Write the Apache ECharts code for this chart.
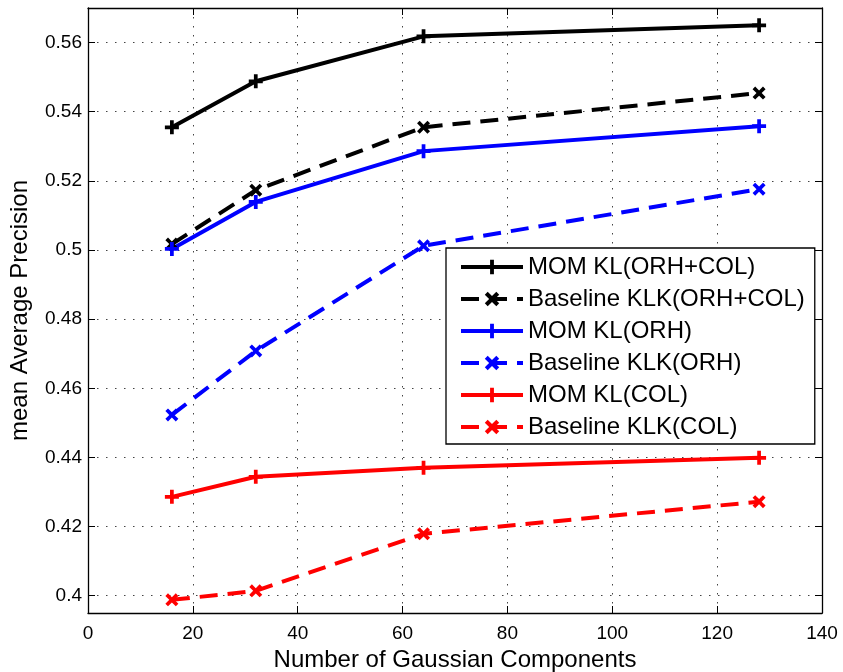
<!DOCTYPE html>
<html><head><meta charset="utf-8">
<script src="https://cdn.jsdelivr.net/npm/echarts@6/dist/echarts.min.js"></script>
<style>html,body{margin:0;padding:0;background:#fff}#c{width:843px;height:672px}</style>
</head><body><div id="c"></div>
<script>
const components = [16, 32, 64, 128];
const momOrhCol = [0.5355, 0.5488, 0.5618, 0.5650];
const baseOrhCol = [0.5017, 0.5173, 0.5355, 0.5454];
const momOrh = [0.5003, 0.5139, 0.5286, 0.5358];
const baseOrh = [0.4523, 0.4708, 0.5012, 0.5176];
const momCol = [0.4286, 0.4344, 0.4370, 0.4399];
const baseCol = [0.3988, 0.4014, 0.4179, 0.4272];
const yTicks = [0.4, 0.42, 0.44, 0.46, 0.48, 0.5, 0.52, 0.54, 0.56];
const xTicks = [0, 20, 40, 60, 80, 100, 120, 140];

const PLUS = 'path://M-1.6,-6 L1.6,-6 L1.6,-1.6 L6,-1.6 L6,1.6 L1.6,1.6 L1.6,6 L-1.6,6 L-1.6,1.6 L-6,1.6 L-6,-1.6 L-1.6,-1.6 Z';
const CROSS = 'path://M-3.6,-6 L0,-2.4 L3.6,-6 L6,-3.6 L2.4,0 L6,3.6 L3.6,6 L0,2.4 L-3.6,6 L-6,3.6 L-2.4,0 L-6,-3.6 Z';

function mk(name, vals, color, dashed) {
  return {
    name: name, type: 'line',
    data: components.map((x, i) => [x, vals[i]]),
    symbol: dashed ? CROSS : PLUS,
    symbolSize: dashed ? 13 : 14,
    showAllSymbol: true,
    lineStyle: { color: color, width: 4, type: dashed ? [18, 10] : 'solid', cap: 'butt' },
    itemStyle: { color: color },
    emphasis: { disabled: true },
    animation: false, z: 3
  };
}
const FONT = 'Liberation Sans';
const chart = echarts.init(document.getElementById('c'), null, { renderer: 'canvas' });
const gridLine = { show: true, lineStyle: { color: '#444', type: [1.5, 7.5], width: 1 } };
const yAxisBase = {
  type: 'value', min: 0.395, max: 0.57,
  axisLine: { show: true, onZero: false, lineStyle: { color: '#000', width: 1.3 } },
  axisTick: { show: true, inside: true, length: 7, customValues: yTicks, lineStyle: { color: '#000' } },
  splitLine: { show: false }
};
const xAxisBase = {
  type: 'value', min: 0, max: 140, interval: 20,
  axisLine: { show: true, onZero: false, lineStyle: { color: '#000', width: 1.3 } },
  axisTick: { show: true, inside: true, length: 7, lineStyle: { color: '#000' } },
  splitLine: { show: false }
};
chart.setOption({
  backgroundColor: '#fff',
  animation: false,
  grid: { left: 88, right: 21, top: 8, bottom: 59, containLabel: false, outerBoundsMode: 'none' },
  xAxis: [
    Object.assign({}, xAxisBase, {
      position: 'bottom',
      name: 'Number of Gaussian Components', nameLocation: 'middle', nameGap: 34,
      nameTextStyle: { fontFamily: FONT, fontSize: 24, color: '#000' },
      axisLabel: { fontFamily: FONT, fontSize: 19, color: '#000', margin: 11 },
      splitLine: gridLine
    }),
    Object.assign({}, xAxisBase, { position: 'top', axisLabel: { show: false } })
  ],
  yAxis: [
    Object.assign({}, yAxisBase, {
      position: 'left',
      name: 'mean Average Precision', nameLocation: 'middle', nameGap: 56,
      nameTextStyle: { fontFamily: FONT, fontSize: 24, color: '#000' },
      axisLabel: { fontFamily: FONT, fontSize: 19, color: '#000', margin: 6, customValues: yTicks,
        formatter: v => String(Math.round(v * 100) / 100) },
      splitLine: gridLine
    }),
    Object.assign({}, yAxisBase, { position: 'right', axisLabel: { show: false } })
  ],
  legend: {
    orient: 'vertical', left: 446, top: 248,
    backgroundColor: '#fff', borderColor: '#000', borderWidth: 1.3,
    padding: [7, 10, 5, 13], itemGap: 8,
    itemWidth: 62, itemHeight: 18,
    lineStyle: { width: 4 },
    textStyle: { fontFamily: FONT, fontSize: 24, color: '#000' },
    data: ['MOM KL(ORH+COL)', 'Baseline KLK(ORH+COL)', 'MOM KL(ORH)', 'Baseline KLK(ORH)', 'MOM KL(COL)', 'Baseline KLK(COL)']
  },
  series: [
    mk('MOM KL(ORH+COL)', momOrhCol, '#000000', false),
    mk('Baseline KLK(ORH+COL)', baseOrhCol, '#000000', true),
    mk('MOM KL(ORH)', momOrh, '#0000ff', false),
    mk('Baseline KLK(ORH)', baseOrh, '#0000ff', true),
    mk('MOM KL(COL)', momCol, '#ff0000', false),
    mk('Baseline KLK(COL)', baseCol, '#ff0000', true)
  ]
});
</script></body></html>
